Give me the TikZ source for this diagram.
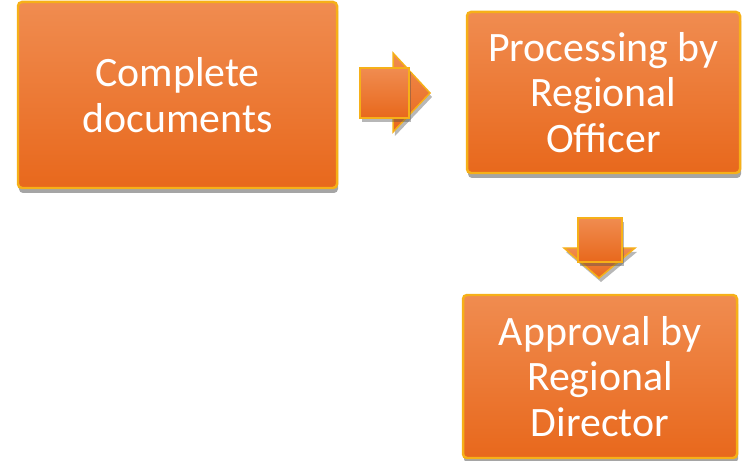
\documentclass[tikz,border=0pt]{standalone}
\usepackage{fontspec}
\setmainfont{Carlito}
\usetikzlibrary{shadows}
\definecolor{otop}{RGB}{240,140,80}
\definecolor{obot}{RGB}{232,104,28}
\definecolor{gold}{RGB}{246,176,24}
\tikzset{
  box/.style={rounded corners=4pt, top color=otop, bottom color=obot, draw=gold, line width=2.5pt,
    text=white, align=center, font=\fontsize{42}{45.5}\selectfont, inner sep=0pt,
    drop shadow={shadow xshift=1pt, shadow yshift=-5pt, opacity=0.5, fill=black!70}},
  arr/.style={top color=otop, bottom color=obot, draw=gold, line width=1.5pt, line join=miter,
    drop shadow={shadow xshift=2pt, shadow yshift=-4pt, opacity=0.4, fill=black!70}}
}
\begin{document}
\begin{tikzpicture}[x=1bp,y=-1bp]
\useasboundingbox (0,0) rectangle (743,461);
\node[box, minimum width=319bp, minimum height=186bp] (a) at (177.5,95) {Complete\\documents};
\node[box, minimum width=273bp, minimum height=161bp] (b) at (603.5,92.5) {Processing by\\Regional\\Officer};
\node[box, minimum width=274bp, minimum height=163bp] (c) at (600,376.5) {Approval by\\Regional\\Director};
% right arrow
\path[arr] (393,53) -- (430,93) -- (393,132) -- cycle;
\path[arr] (360,68) rectangle (409,118);
% down arrow
\path[arr] (564,248) -- (635,248) -- (599,278) -- cycle;
\path[arr] (578,218) rectangle (622,262);
\end{tikzpicture}
\end{document}
